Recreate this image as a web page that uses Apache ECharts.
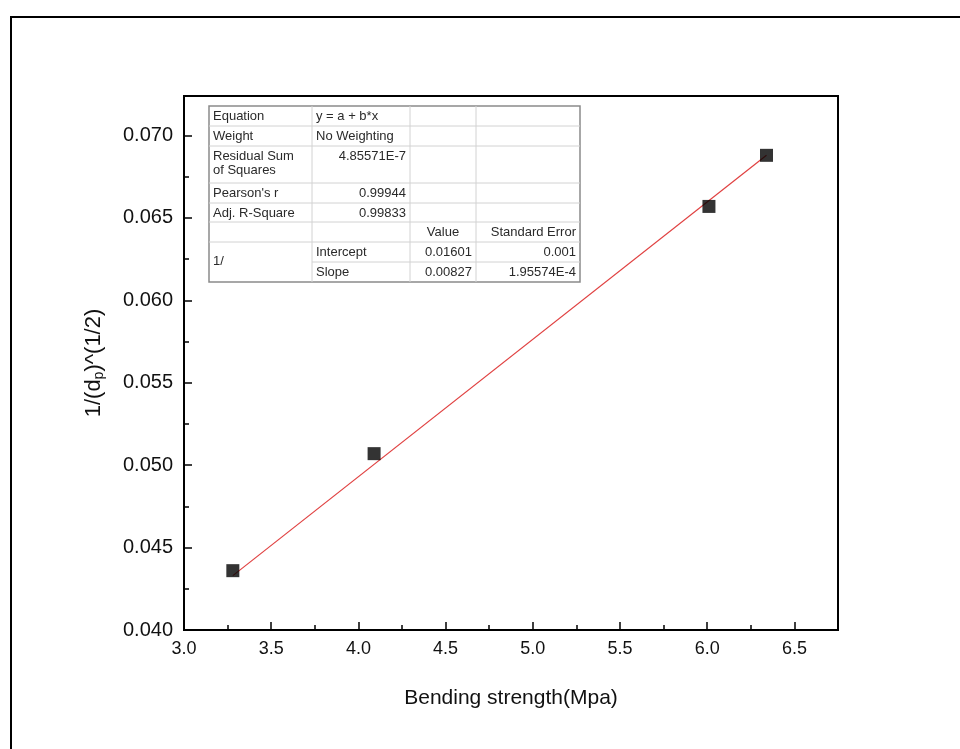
<!DOCTYPE html>
<html>
<head>
<meta charset="utf-8">
<script src="https://cdn.jsdelivr.net/npm/echarts@6/dist/echarts.min.js"></script>
<style>html,body{margin:0;padding:0;background:#fff;}#c{width:960px;height:749px;}</style>
</head>
<body>
<div id="c"></div>
<script>
// Data
var pointsX = [3.28, 4.09, 6.01, 6.34];
var pointsY = [0.0436, 0.0507, 0.0657, 0.0688];
var fitX = [3.28, 6.34];
var fitY = [0.0433, 0.0688];
var xTicks = { min: 3.0, max: 6.75, interval: 0.5 };
var yTicks = { min: 0.040, max: 0.0724, interval: 0.005 };
var xTitle = 'Bending strength(Mpa)';

// Fit table text
var tableRows = [
  ['Equation', 'y = a + b*x', '', ''],
  ['Weight', 'No Weighting', '', ''],
  ['Residual Sum\nof Squares', '4.85571E-7', '', ''],
  ["Pearson's r", '0.99944', '', ''],
  ['Adj. R-Square', '0.99833', '', ''],
  ['', '', 'Value', 'Standard Error'],
  ['1/', 'Intercept', '0.01601', '0.001'],
  ['', 'Slope', '0.00827', '1.95574E-4']
];

var chart = echarts.init(document.getElementById('c'), null, {renderer: 'canvas'});

// table geometry
var colX = [209, 312, 410, 476, 580];
var rowY = [106, 126, 146, 183, 203, 222, 242, 262, 282];
var align = [
  ['l','l','l','l'],
  ['l','l','l','l'],
  ['l','r','l','l'],
  ['l','r','l','l'],
  ['l','r','l','l'],
  ['l','l','c','r'],
  ['l','l','r','r'],
  ['l','l','r','r']
];
var g = [];
g.push({type:'rect', shape:{x:11,y:17,width:1000,height:1000}, style:{fill:'none', stroke:'#000', lineWidth:2}, silent:true, z:0});
g.push({type:'rect', shape:{x:colX[0], y:rowY[0], width:colX[4]-colX[0], height:rowY[8]-rowY[0]}, style:{fill:'#fff', stroke:'#8a8a8a', lineWidth:1.5}, z:10});
for (var r = 1; r < 8; r++) {
  var x0 = (r === 7) ? colX[1] : colX[0];
  g.push({type:'line', shape:{x1:x0, y1:rowY[r], x2:colX[4], y2:rowY[r]}, style:{stroke:'#d2d2d2', lineWidth:1}, z:11});
}
for (var c = 1; c < 4; c++) {
  g.push({type:'line', shape:{x1:colX[c], y1:rowY[0], x2:colX[c], y2:rowY[8]}, style:{stroke:'#d2d2d2', lineWidth:1}, z:11});
}
for (var r = 0; r < 8; r++) {
  for (var c = 0; c < 4; c++) {
    var t = tableRows[r][c];
    if (!t) continue;
    var a = align[r][c];
    var tx = a === 'l' ? colX[c] + 4 : (a === 'r' ? colX[c+1] - 4 : (colX[c] + colX[c+1]) / 2);
    var ty = rowY[r] + 3;
    if (r === 6 && c === 0) ty = rowY[6] + 12;
    g.push({type:'text', x:tx, y:ty, style:{text:t, font:'13px "Liberation Sans", Arial', fill:'#2a2a2a', align: a==='l'?'left':(a==='r'?'right':'center'), verticalAlign:'top', lineHeight:14}, z:12});
  }
}

var axisFont = '"Liberation Sans", Arial, sans-serif';
chart.setOption({
  animation: false,
  backgroundColor: '#fff',
  grid: {left: 184, right: 122, top: 96, bottom: 119, show: true, borderColor: '#000', borderWidth: 2, backgroundColor: 'transparent'},
  xAxis: {
    type: 'value', min: xTicks.min, max: xTicks.max, interval: xTicks.interval,
    name: xTitle, nameLocation: 'middle', nameGap: 58,
    nameTextStyle: {fontFamily: axisFont, fontSize: 21, color: '#111'},
    axisLine: {show: true, onZero: false, lineStyle: {color: '#000', width: 2}},
    axisTick: {show: true, inside: true, length: 8, lineStyle: {color: '#000', width: 1.5}},
    minorTick: {show: true, splitNumber: 2, length: 5, lineStyle: {color: '#000', width: 1.5}},
    axisLabel: {fontFamily: axisFont, fontSize: 18, color: '#111', margin: 10, formatter: function(v){ return v.toFixed(1); }, showMaxLabel: false},
    splitLine: {show: false}
  },
  yAxis: {
    type: 'value', min: yTicks.min, max: yTicks.max, interval: yTicks.interval,
    name: '{n|1/(d}{s|p}{n|)^(1/2)}', nameLocation: 'middle', nameGap: 78, nameRotate: 90,
    nameTextStyle: {rich: {n: {fontFamily: axisFont, fontSize: 22, color: '#111'}, s: {fontFamily: axisFont, fontSize: 14, color: '#111', verticalAlign: 'bottom', padding: [10,0,0,0]}}},
    axisLine: {show: true, onZero: false, lineStyle: {color: '#000', width: 2}},
    axisTick: {show: true, inside: true, length: 8, lineStyle: {color: '#000', width: 1.5}},
    minorTick: {show: true, splitNumber: 2, length: 5, lineStyle: {color: '#000', width: 1.5}},
    axisLabel: {fontFamily: axisFont, fontSize: 20, color: '#111', margin: 11, formatter: function(v){ return v.toFixed(3); }, showMaxLabel: false},
    splitLine: {show: false}
  },
  series: [
    {type: 'line', data: fitX.map(function(x,i){return [x, fitY[i]];}), showSymbol: false, symbol: 'none', lineStyle: {color: '#e04040', width: 1.2}, z: 2},
    {type: 'scatter', data: pointsX.map(function(x,i){return [x, pointsY[i]];}), symbol: 'rect', symbolSize: 13, itemStyle: {color: '#000'}, z: 3}
  ],
  graphic: g
});
</script>
</body>
</html>
